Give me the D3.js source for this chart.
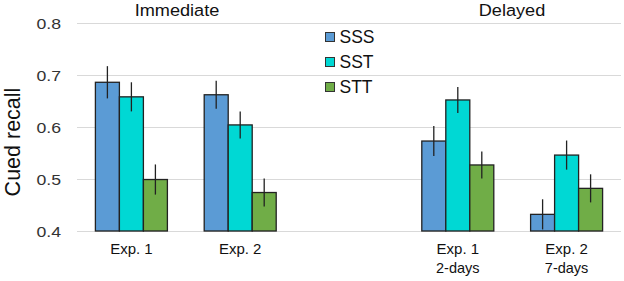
<!DOCTYPE html>
<html>
<head>
<meta charset="utf-8">
<script src="https://cdn.jsdelivr.net/npm/d3@7/dist/d3.min.js"></script>
<style>
  body { margin: 0; background: #fff; }
  svg { display: block; font-family: Arial, "Liberation Sans", sans-serif; }
</style>
</head>
<body>
<svg id="chart" width="624" height="281"></svg>
<script>
(function () {
  'use strict';

  // slots on the x axis; the empty one separates the two panels
  var slots = ['imm1', 'imm2', 'gap', 'del1', 'del2'];
  var slotLabels = ['Exp. 1', 'Exp. 2', '', 'Exp. 1', 'Exp. 2'];
  var slotSubLabels = ['', '', '', '2-days', '7-days'];
  var series = ['SSS', 'SST', 'STT'];
  var colors = ['#5B9BD5', '#00D8D4', '#70AD47'];

  var sssValues = [0.686, 0.662, null, 0.573, 0.432];
  var sstValues = [0.658, 0.604, null, 0.652, 0.546];
  var sttValues = [0.499, 0.474, null, 0.527, 0.482];
  var sssErr = [0.031, 0.027, null, 0.029, 0.029];
  var sstErr = [0.028, 0.026, null, 0.025, 0.028];
  var sttErr = [0.029, 0.027, null, 0.026, 0.027];

  var panelTitles = ['Immediate', 'Delayed'];
  var yTicks = [0.4, 0.5, 0.6, 0.7, 0.8];

  var values = [sssValues, sstValues, sttValues];
  var errs = [sssErr, sstErr, sttErr];

  var svg = d3.select('#chart');
  var x = d3.scaleBand().domain(slots).range([77, 621]).padding(0);
  var x1 = d3.scaleBand().domain(series).range([0, 72]).padding(0);
  var y = d3.scaleLinear().domain([0.4, 0.8]).range([231, 23]);
  var off = (x.bandwidth() - 72) / 2;

  // text slightly wider than the plain font, as in the original
  function wideText(sel, tx, ty, sx) {
    return sel.append('text')
      .attr('transform', 'translate(' + tx + ',' + ty + ') scale(' + sx + ',1)');
  }

  // gridlines
  svg.append('g')
    .selectAll('line')
    .data(yTicks)
    .enter()
    .append('line')
    .attr('x1', 77)
    .attr('x2', 621)
    .attr('y1', function (d) { return Math.round(y(d)) + 0.5; })
    .attr('y2', function (d) { return Math.round(y(d)) + 0.5; })
    .attr('stroke', '#d9d9d9')
    .attr('stroke-width', 1);

  // y axis labels
  yTicks.forEach(function (t) {
    wideText(svg, 61, y(t), 1.14)
      .attr('dy', '0.36em')
      .attr('text-anchor', 'end')
      .style('font-size', '15.5px')
      .style('fill', '#333')
      .text(d3.format('.1f')(t));
  });

  svg.append('text')
    .attr('transform', 'translate(19.5,142) rotate(-90)')
    .attr('text-anchor', 'middle')
    .style('font-size', '21.5px')
    .style('fill', '#111')
    .text('Cued recall');

  // bars
  var bars = [];
  slots.forEach(function (s, i) {
    series.forEach(function (name, k) {
      if (values[k][i] == null) return;
      bars.push({ slot: s, series: name, k: k, v: values[k][i], e: errs[k][i] });
    });
  });

  var g = svg.append('g');
  g.selectAll('rect')
    .data(bars)
    .enter()
    .append('rect')
    .attr('x', function (d) { return x(d.slot) + off + x1(d.series); })
    .attr('y', function (d) { return y(d.v); })
    .attr('width', x1.bandwidth())
    .attr('height', function (d) { return y(0.4) - y(d.v); })
    .attr('fill', function (d) { return colors[d.k]; })
    .attr('stroke', '#222')
    .attr('stroke-width', 1.3);

  // error bars
  g.selectAll('line.err')
    .data(bars)
    .enter()
    .append('line')
    .attr('class', 'err')
    .attr('x1', function (d) { return x(d.slot) + off + x1(d.series) + x1.bandwidth() / 2; })
    .attr('x2', function (d) { return x(d.slot) + off + x1(d.series) + x1.bandwidth() / 2; })
    .attr('y1', function (d) { return y(d.v + d.e); })
    .attr('y2', function (d) { return y(d.v - d.e); })
    .attr('stroke', '#222')
    .attr('stroke-width', 1.3);

  // x labels
  slots.forEach(function (s, i) {
    var cx = x(s) + x.bandwidth() / 2;
    if (slotLabels[i]) {
      svg.append('text')
        .attr('x', cx)
        .attr('y', 254)
        .attr('text-anchor', 'middle')
        .style('font-size', '15px')
        .style('fill', '#111')
        .text(slotLabels[i]);
    }
    if (slotSubLabels[i]) {
      svg.append('text')
        .attr('x', cx)
        .attr('y', 273)
        .attr('text-anchor', 'middle')
        .style('font-size', '14.5px')
        .style('fill', '#111')
        .text(slotSubLabels[i]);
    }
  });

  // panel titles
  var titleX = [177, 512];
  panelTitles.forEach(function (t, i) {
    wideText(svg, titleX[i], 16, 1.1)
      .attr('text-anchor', 'middle')
      .style('font-size', '16.5px')
      .style('fill', '#111')
      .text(t);
  });

  // legend
  var legend = svg.append('g').attr('transform', 'translate(325,32)');
  series.forEach(function (name, k) {
    legend.append('rect')
      .attr('x', 0.5)
      .attr('y', k * 25 + 0.5)
      .attr('width', 9)
      .attr('height', 9)
      .attr('fill', colors[k])
      .attr('stroke', '#333')
      .attr('stroke-width', 1);
    legend.append('text')
      .attr('x', 14.5)
      .attr('y', k * 25 + 5)
      .attr('dy', '0.36em')
      .style('font-size', '17.5px')
      .style('fill', '#111')
      .text(name);
  });
})();
</script>
</body>
</html>
